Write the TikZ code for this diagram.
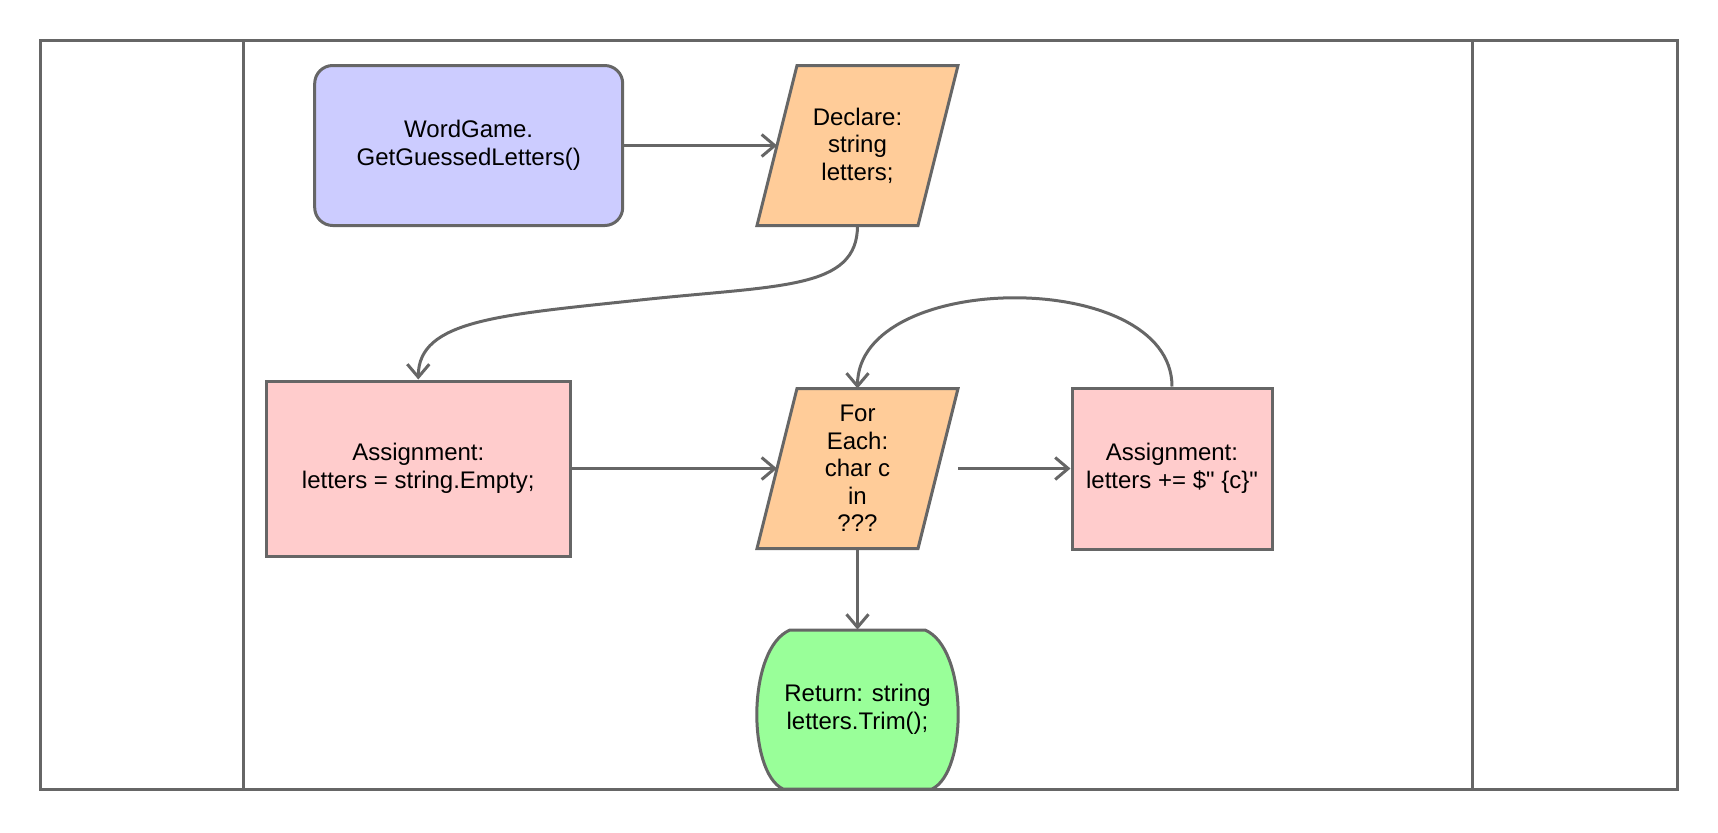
\documentclass[tikz,border=0pt]{standalone}
\usepackage{fontspec}
\setmainfont{Liberation Sans}[Ligatures=TeXOff]
\usetikzlibrary{arrows.meta,backgrounds}
\definecolor{edgegray}{HTML}{666666}
\definecolor{startblue}{HTML}{CCCCFF}
\definecolor{declorange}{HTML}{FFCC99}
\definecolor{assignpink}{HTML}{FFCCCC}
\definecolor{returngreen}{HTML}{99FF99}
\begin{document}
\begin{tikzpicture}[x=0.5pt,y=0.5pt,
  every text node part/.style={align=center},
  every node/.style={font=\fontsize{12}{13.8}\selectfont, inner sep=0pt},
  lane/.style={draw=edgegray, line width=1.5pt},
  startbox/.style={draw=edgegray, line width=1.5pt, fill=startblue, rectangle, rounded corners=9pt, minimum width=154pt, minimum height=80pt},
  iobox/.style={rectangle, outer sep=0pt, minimum width=80.5pt, minimum height=80pt},
  assignbox/.style={draw=edgegray, line width=1.5pt, fill=assignpink, rectangle},
  link/.style={draw=edgegray, line width=1.5pt, -{Straight Barb[length=6.5pt,width=11pt]}}]
  \useasboundingbox (0,0) rectangle (1718,-832);
  \draw[lane] (40.5,-40) rectangle (1677,-789);
  \draw[lane] (243.5,-40) -- (243.5,-789);
  \draw[lane] (1472.5,-40) -- (1472.5,-789);
  \filldraw[lane, fill=returngreen] (790,-630) -- (925,-630) .. controls (968,-648) and (968,-772) .. (932,-789) -- (783,-789) .. controls (747,-772) and (747,-648) .. (790,-630) -- cycle;

  \node[startbox] (0) at (468.7,-145.5) {WordGame.\\GetGuessedLetters()};
  \node[iobox] (1) at (857.5,-145.5) {Declare:\\string\\letters;};
  \node[assignbox, minimum width=152pt, minimum height=87.5pt] (2) at (418.3,-468.5) {Assignment:\\letters = string.Empty;};
  \node[iobox] (3) at (857.5,-468.5) {For\\Each:\\char c\\in\\???};
  \node[assignbox, minimum width=100pt, minimum height=80.5pt] (4) at (1172,-468.5) {Assignment:\\letters += \$" \{c\}"};
  \node[minimum width=100pt, minimum height=79.5pt] (5) at (857.5,-709.5) {Return: string\\letters.Trim();};

  \begin{scope}[on background layer]
    \foreach \n in {1,3}
      \filldraw[lane, fill=declorange] ([xshift=10pt]\n.north west) -- ([xshift=10pt]\n.north east) -- ([xshift=-10pt]\n.south east) -- ([xshift=-10pt]\n.south west) -- cycle;
  \end{scope}

  \draw[link] (0) -- (1);
  \draw[link] (1.south) .. controls (857.5,-290) and (780,-285) .. (640,-300) .. controls (500,-315) and (418.3,-320) .. (2.north);
  \draw[link] (2) -- (3);
  \draw[link] ([xshift=10pt]3.east) -- (4);
  \draw[link] (3) -- (5);
  \draw[link] (4.north) .. controls +(0,119) and +(0,119) .. (3.north);
\end{tikzpicture}
\end{document}
